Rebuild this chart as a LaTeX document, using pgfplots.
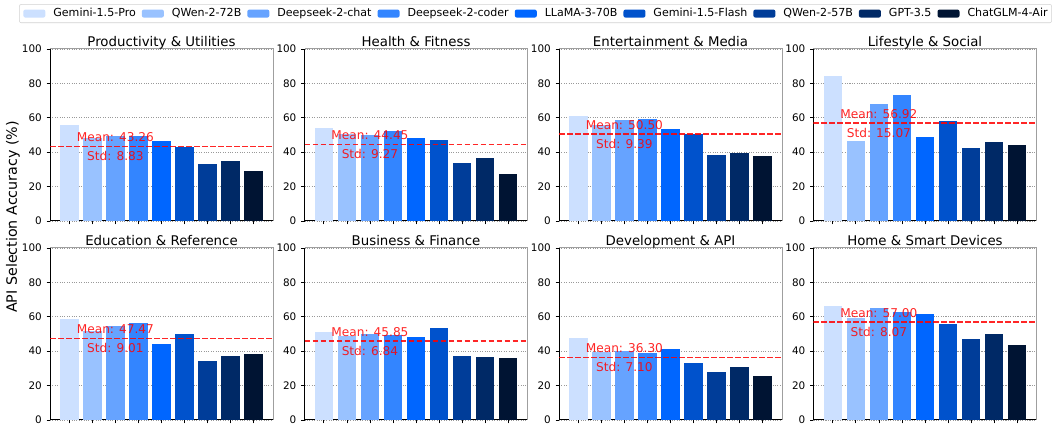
\documentclass[border=0pt]{standalone}
\usepackage{fontspec}
\setmainfont{DejaVu Sans}
\usepackage{pgfplots}
\usepackage{pgfplotstable}
\pgfplotsset{compat=1.18}

\definecolor{c0}{RGB}{204,224,255}
\definecolor{c1}{RGB}{153,194,255}
\definecolor{c2}{RGB}{102,163,255}
\definecolor{c3}{RGB}{51,133,255}
\definecolor{c4}{RGB}{0,102,255}
\definecolor{c5}{RGB}{0,82,204}
\definecolor{c6}{RGB}{0,61,153}
\definecolor{c7}{RGB}{0,41,102}
\definecolor{c8}{RGB}{0,20,51}

% accuracy per model (rows) and category (columns)
\pgfplotstableread{
idx PU   HF   EM   LS   ER   BF   DA   HS
0   55.8 54.1 61.0 84.4 58.9 51.4 47.9 66.5
1   48.0 50.6 55.7 46.5 51.8 48.9 39.7 59.5
2   49.3 50.0 58.7 68.2 54.8 50.2 40.3 65.3
3   49.4 52.3 59.3 73.5 56.6 49.6 39.1 62.6
4   46.5 48.3 53.5 48.8 44.4 48.4 41.5 61.8
5   43.2 47.1 50.6 58.3 50.2 53.7 33.3 56.0
6   33.1 33.7 38.4 42.4 34.5 37.4 28.1 47.3
7   34.9 36.6 39.5 45.9 37.4 36.8 31.0 50.2
8   29.1 27.3 37.8 44.2 38.6 36.2 25.8 43.8
}\acc

\tikzset{
  lbl/.style={text=red, text opacity=0.85, anchor=base, inner sep=0pt, font=\fontsize{9.1}{11}\selectfont},
}
\pgfplotsset{
  panel/.style={
    scale only axis, width=167.25pt, height=129pt,
    anchor=south west,
    xmin=-0.84, xmax=8.84, ymin=0, ymax=100,
    ytick={0,20,...,100}, xtick={0,...,8}, xticklabels={},
    ymajorgrids,
    major grid style={gray, line width=0.5pt, dash pattern=on 0.8pt off 1pt, opacity=0.8},
    axis x line*=bottom, axis y line*=left,
    axis line style={-, black, line width=0.75pt},
    tick align=outside, major tick length=2.6pt,
    tick style={black, line width=0.6pt},
    ticklabel style={font=\fontsize{7.8}{9}\selectfont},
    /pgf/number format/assume math mode=true,
    title style={font=\fontsize{10}{12}\selectfont, anchor=base, yshift=-4pt},
    legend image code/.code={\fill[##1, draw=none] (0pt,-3pt) rectangle (16.5pt,3pt);},
    after end axis/.code={\draw[gray!75, line width=0.75pt] (rel axis cs:0,1) -- (rel axis cs:1,1) -- (rel axis cs:1,0);},
  },
  bar/.style={ybar, bar width=0.8, bar shift=0pt, draw=none},
  meanline/.style={red, opacity=0.85, line width=1.1pt, dash pattern=on 4.2pt off 1.8pt},
}

% #1 x, #2 y, #3 column, #4 title, #5 mean, #6 std, #7 extra options
\newcommand\panel[7]{%
\begin{axis}[panel, at={(#1,#2)}, title={#4}, #7]
\pgfplotsinvokeforeach{0,...,8}{%
  \addplot[bar, fill=c##1, restrict expr to domain={\coordindex}{##1:##1}] table[x=idx, y=#3] {\acc};}
\addplot[meanline, forget plot] coordinates {(-0.84,#5) (8.84,#5)};
\node[lbl] at (axis cs:2,{#5+2.8}) {Mean: #5};
\node[lbl] at (axis cs:2,{#5-8.3}) {Std: #6};
\end{axis}}

\begin{document}
\begin{tikzpicture}
\useasboundingbox (0,0) rectangle (789pt,320.25pt);

\panel{37.5pt}{154.5pt}{PU}{Productivity \& Utilities}{43.26}{8.83}{
  legend entries={Gemini-1.5-Pro, QWen-2-72B, Deepseek-2-chat, Deepseek-2-coder, LLaMA-3-70B, Gemini-1.5-Flash, QWen-2-57B, GPT-3.5, ChatGLM-4-Air},
  legend cell align=left,
  legend style={at={(2.177,1.206)}, anchor=center, legend columns=9,
    draw=gray!35, rounded corners=1.5pt, inner xsep=3pt, inner ysep=3pt,
    font=\fontsize{8.3}{10}\selectfont,
    nodes={inner sep=0pt},
    /tikz/every odd column/.append style={column sep=6pt},
    /tikz/every even column/.append style={column sep=4.5pt}}}
\panel{228.4pt}{154.5pt}{HF}{Health \& Fitness}{44.45}{9.27}{}
\panel{419.25pt}{154.5pt}{EM}{Entertainment \& Media}{50.50}{9.39}{}
\panel{610.1pt}{154.5pt}{LS}{Lifestyle \& Social}{56.92}{15.07}{}
\panel{37.5pt}{5.25pt}{ER}{Education \& Reference}{47.47}{9.01}{}
\panel{228.4pt}{5.25pt}{BF}{Business \& Finance}{45.85}{6.84}{}
\panel{419.25pt}{5.25pt}{DA}{Development \& API}{36.30}{7.10}{}
\panel{610.1pt}{5.25pt}{HS}{Home \& Smart Devices}{57.00}{8.07}{}

\node[rotate=90, font=\fontsize{10.7}{13}\selectfont] at (9.75pt,157.5pt) {API Selection Accuracy (\%)};
\end{tikzpicture}
\end{document}
